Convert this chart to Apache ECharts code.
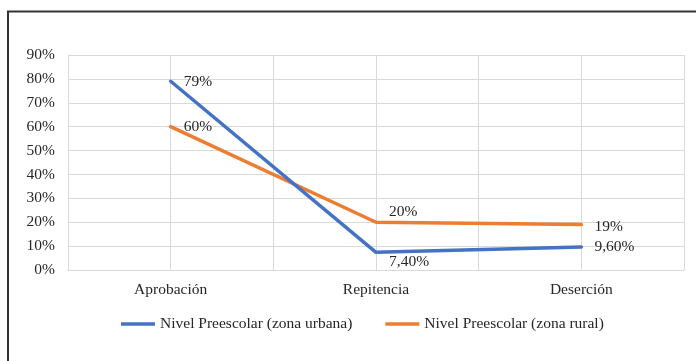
<!DOCTYPE html>
<html>
<head>
<meta charset="utf-8">
<script src="https://cdn.jsdelivr.net/npm/echarts@6/dist/echarts.min.js"></script>
<style>
  html, body { margin: 0; padding: 0; background: #fff; }
  #chart { width: 696px; height: 361px; }
</style>
</head>
<body>
<div id="chart"></div>
<script>
// Indicadores de eficiencia interna, nivel preescolar
const categories = ['Aprobación', 'Repitencia', 'Deserción'];
const urbana = [79, 7.4, 9.6];
const rural = [60, 20, 19];
const seriesNames = ['Nivel Preescolar (zona urbana)', 'Nivel Preescolar (zona rural)'];
const yTicks = [0, 10, 20, 30, 40, 50, 60, 70, 80, 90];

const FONT = '"Liberation Serif", "Times New Roman", serif';
const FS = 15.5;
const TXT = '#262626';
const GRID = '#d9d9d9';

// Percent text: whole numbers plain, others with two decimals and comma
function pct(v) {
  if (Number.isInteger(v)) return v + '%';
  return v.toFixed(2).replace('.', ',') + '%';
}

// Half-category slots used only to draw the vertical grid lines
const halfSlots = [];
categories.forEach(c => { halfSlots.push(c + 'a', c + 'b'); });

const labelBase = {
  show: true, position: 'right', distance: 13,
  fontFamily: FONT, fontSize: FS, color: TXT,
  formatter: p => pct(p.value)
};

function withLabels(values, offsets) {
  return values.map((v, i) => ({ value: v, label: { offset: offsets[i] } }));
}

const chart = echarts.init(document.getElementById('chart'));
chart.setOption({
  animation: false,
  backgroundColor: '#fff',
  graphic: [{
    type: 'rect', silent: true,
    shape: { x: 8, y: 11.5, width: 760, height: 420 },
    style: { fill: null, stroke: '#333', lineWidth: 2 }
  }],
  grid: { left: 68, right: 12, top: 55, bottom: 91 },
  legend: {
    left: 116, top: 311,
    icon: 'rect', itemWidth: 34, itemHeight: 3.5, itemGap: 33,
    textStyle: { fontFamily: FONT, fontSize: FS, color: TXT },
    data: seriesNames
  },
  xAxis: [{
    type: 'category', data: categories, boundaryGap: true,
    axisLine: { show: true, lineStyle: { color: GRID, width: 1 } },
    axisTick: { show: false },
    splitLine: { show: false },
    axisLabel: { fontFamily: FONT, fontSize: FS, color: TXT, margin: 12 }
  }, {
    type: 'category', data: halfSlots, boundaryGap: true, position: 'bottom',
    axisLine: { show: false }, axisTick: { show: false }, axisLabel: { show: false },
    splitLine: { show: true, lineStyle: { color: GRID, width: 1 } }
  }],
  yAxis: {
    type: 'value', min: yTicks[0], max: yTicks[yTicks.length - 1], interval: 10,
    axisLine: { show: false }, axisTick: { show: false },
    splitLine: { show: true, lineStyle: { color: GRID, width: 1 } },
    axisLabel: { fontFamily: FONT, fontSize: FS, color: TXT, margin: 13, formatter: v => v + '%' }
  },
  series: [{
    name: seriesNames[0], type: 'line', xAxisIndex: 0,
    data: withLabels(urbana, [[0, 1], [0, 10], [0, 0]]),
    symbol: 'circle', symbolSize: 0.1, showSymbol: true, color: '#4472C4',
    lineStyle: { width: 3.5, cap: 'round', join: 'round' },
    label: labelBase, z: 3
  }, {
    name: seriesNames[1], type: 'line', xAxisIndex: 0,
    data: withLabels(rural, [[0, 0], [0, -10], [0, 2]]),
    symbol: 'circle', symbolSize: 0.1, showSymbol: true, color: '#ED7D31',
    lineStyle: { width: 3.5, cap: 'round', join: 'round' },
    label: labelBase, z: 2
  }]
});
</script>
</body>
</html>
